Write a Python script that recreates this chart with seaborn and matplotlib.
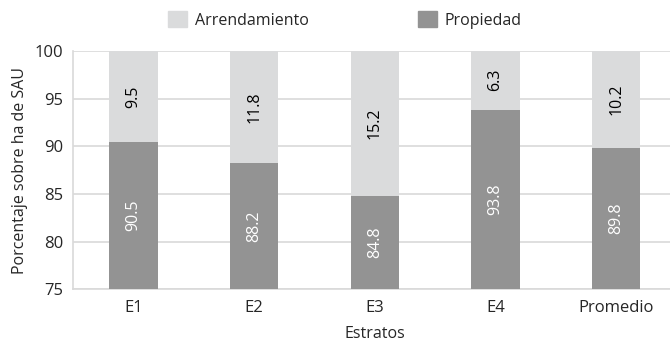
import pandas as pd
import seaborn as sns
from matplotlib import pyplot as plt
from matplotlib.patches import Patch
import matplotlib

matplotlib.use('Agg')
sns.set_style("white")
plt.rcParams['font.family'] = ['Open Sans', 'DejaVu Sans']

estratos = ["E1", "E2", "E3", "E4", "Promedio"]
propiedad = [90.5, 88.2, 84.8, 93.8, 89.8]
arrendamiento = [9.5, 11.8, 15.2, 6.3, 10.2]

c_arr = "#dadbdc"
c_prop = "#939393"
grid_c = "#d9d9d9"

df = pd.DataFrame({"estrato": estratos, "propiedad": propiedad,
                   "arrendamiento": arrendamiento})
df["total"] = df["propiedad"] + df["arrendamiento"]

fig, ax = plt.subplots(figsize=(6.7, 3.41), dpi=100)
# axis runs slightly past the right edge, as in the original
fig.subplots_adjust(left=0.109, right=1.01, top=0.85, bottom=0.152)

sns.barplot(data=df, x="estrato", y="total", color=c_arr, width=0.4,
            saturation=1, linewidth=0, ax=ax, zorder=2)
sns.barplot(data=df, x="estrato", y="propiedad", color=c_prop, width=0.4,
            saturation=1, linewidth=0, ax=ax, zorder=3)

ax.set_ylim(75, 100)
ax.set_xlim(-0.5, len(estratos) - 0.5)
ax.set_yticks([75, 80, 85, 90, 95, 100])
ax.yaxis.grid(True, color=grid_c, lw=1.2, zorder=0)
ax.set_axisbelow(True)

for s in ["top", "right"]:
    ax.spines[s].set_visible(False)
for s in ["left", "bottom"]:
    ax.spines[s].set_color(grid_c)
    ax.spines[s].set_linewidth(1.2)

# category ticks at boundaries
ax.set_xticks([i - 0.5 for i in range(len(estratos) + 1)], minor=True)
ax.tick_params(axis="x", which="minor", length=5, color=grid_c, width=1.2)
ax.tick_params(axis="x", which="major", length=0, labelsize=12, pad=8)
ax.tick_params(axis="y", length=5, color=grid_c, width=1.2, labelsize=12, pad=2)

for i, (p, a) in enumerate(zip(propiedad, arrendamiento)):
    ax.text(i, (75 + p) / 2, f"{p:.1f}", rotation=90, ha="center", va="center",
            color="white", fontsize=11.5, zorder=5)
    ax.text(i, p + a / 2, f"{a:.1f}", rotation=90, ha="center", va="center",
            color="black", fontsize=11.5, zorder=5)

ax.set_xlabel("Estratos", fontsize=11.5, labelpad=7)
ax.set_ylabel("Porcentaje sobre ha de SAU", fontsize=11.5, labelpad=5)

handles = [Patch(color=c_arr, label="Arrendamiento"),
           Patch(color=c_prop, label="Propiedad")]
fig.legend(handles=handles, loc="upper center", ncol=2, frameon=False,
           bbox_to_anchor=(0.515, 1.01), fontsize=11.5, handlelength=1.2,
           handleheight=1.2, columnspacing=6.8, handletextpad=0.5)

plt.savefig("out.png", dpi=100)
